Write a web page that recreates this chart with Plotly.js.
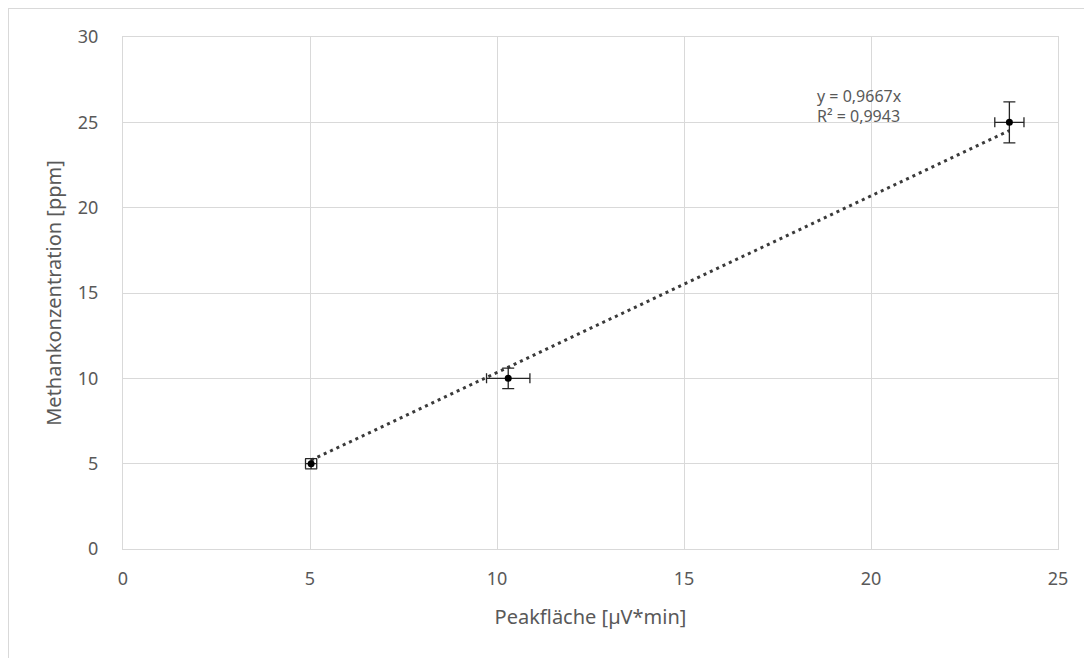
<!DOCTYPE html>
<html>
<head>
<meta charset="utf-8">
<script src="https://cdn.plot.ly/plotly-3.0.1.min.js"></script>
<style>
  html, body { margin: 0; padding: 0; background: #ffffff; }
  #frame { position: absolute; left: 8px; top: 8px; width: 1076px; height: 650px;
           border-left: 1px solid #d9d9d9; border-top: 1px solid #d9d9d9; box-sizing: border-box; }
  #chart { position: absolute; left: 0; top: 0; width: 1084px; height: 658px; }
</style>
</head>
<body>
<div id="frame"></div>
<div id="chart"></div>
<script>
// Calibration points: peak area vs. methane concentration
const peakArea = [5.03, 10.3, 23.7];        // µV*min
const concentration = [5, 10, 25];          // ppm
const peakAreaErr = [0.15, 0.58, 0.39];
const concentrationErr = [0.3, 0.6, 1.2];

// Linear fit through the origin
const slope = 0.9667;
const rSquared = 0.9943;

const xTicks = [0, 5, 10, 15, 20, 25];
const yTicks = [0, 5, 10, 15, 20, 25, 30];

const fmt = v => String(v).replace('.', ',');

// Trendline spans the measured range
const xMin = Math.min(...peakArea);
const xMax = Math.max(...peakArea);
const trendX = [xMin, xMax];
const trendY = trendX.map(x => x / slope);

const textColor = '#595959';
const gridColor = '#d9d9d9';
const font = 'Noto Sans, Open Sans, sans-serif';

const traces = [
  {
    x: trendX, y: trendY, type: 'scatter', mode: 'lines',
    line: { color: '#3a3a3a', width: 3, dash: '3px,4px' },
    hoverinfo: 'skip', showlegend: false
  },
  {
    x: peakArea, y: concentration, type: 'scatter', mode: 'markers',
    marker: { color: '#000000', size: 7 },
    error_x: { type: 'data', array: peakAreaErr, visible: true, color: '#262626', thickness: 1.3, width: 5 },
    error_y: { type: 'data', array: concentrationErr, visible: true, color: '#262626', thickness: 1.3, width: 6 },
    showlegend: false
  }
];

const layout = {
  width: 1084, height: 658,
  margin: { l: 123, r: 26, t: 37, b: 109 },
  paper_bgcolor: 'rgba(0,0,0,0)',
  plot_bgcolor: '#ffffff',
  font: { family: font, size: 18, color: textColor },
  xaxis: {
    range: [0, 25], tickvals: xTicks, ticktext: xTicks.map(String),
    showgrid: true, gridcolor: gridColor, gridwidth: 1,
    zeroline: false, showline: true, linecolor: gridColor, linewidth: 1, mirror: true,
    ticks: 'outside', ticklen: 13, tickcolor: 'rgba(0,0,0,0)',
    tickfont: { family: font, size: 18, color: textColor },
    title: { text: 'Peakfläche [µV*min]', font: { family: font, size: 20, color: textColor }, standoff: 21 }
  },
  yaxis: {
    range: [0, 30], tickvals: yTicks, ticktext: yTicks.map(String),
    showgrid: true, gridcolor: gridColor, gridwidth: 1,
    zeroline: false, showline: true, linecolor: gridColor, linewidth: 1, mirror: true,
    ticks: 'outside', ticklen: 20, tickcolor: 'rgba(0,0,0,0)',
    tickfont: { family: font, size: 18, color: textColor },
    title: { text: 'Methankonzentration [ppm]', font: { family: font, size: 20, color: textColor }, standoff: 10 }
  },
  annotations: [
    {
      xref: 'paper', yref: 'paper', x: 0.740, y: 0.8848, xanchor: 'left', yanchor: 'middle',
      showarrow: false, text: 'y = ' + fmt(slope) + 'x',
      font: { family: font, size: 16, color: textColor }
    },
    {
      xref: 'paper', yref: 'paper', x: 0.740, y: 0.8457, xanchor: 'left', yanchor: 'middle',
      showarrow: false, text: 'R² = ' + fmt(rSquared),
      font: { family: font, size: 16, color: textColor }
    }
  ]
};

Plotly.newPlot('chart', traces, layout, { displayModeBar: false, staticPlot: true });
</script>
</body>
</html>
